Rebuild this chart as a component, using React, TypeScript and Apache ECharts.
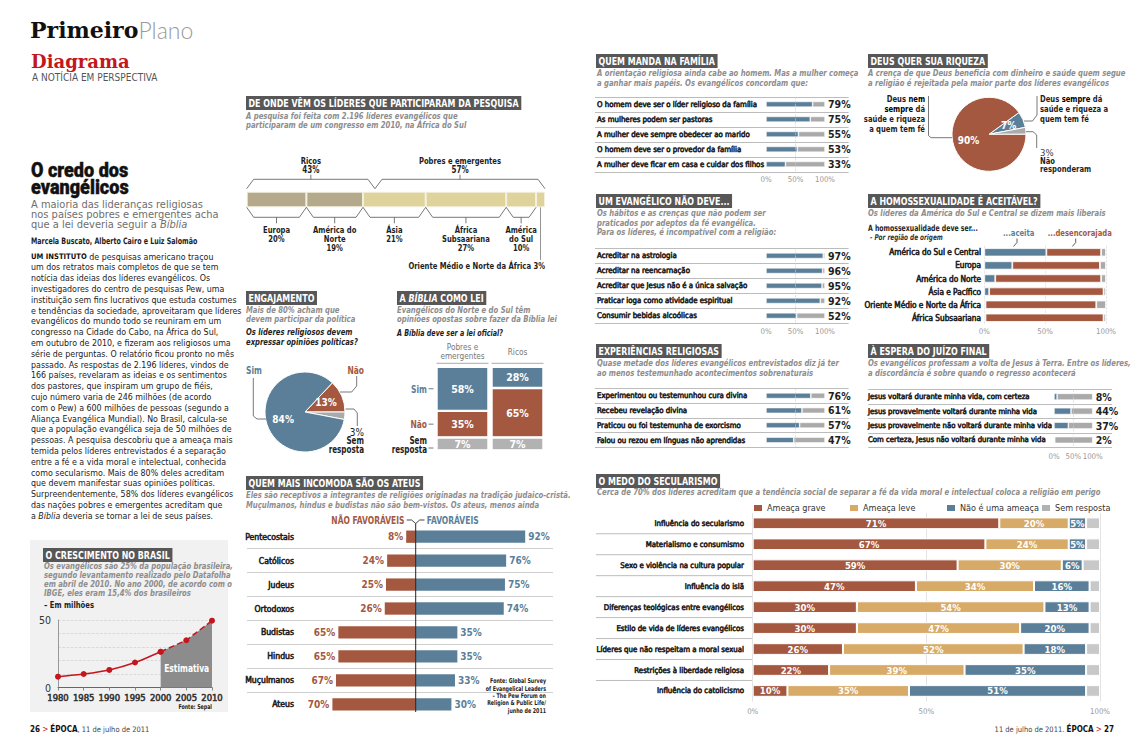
import React, { useEffect, useRef } from "react";
import * as echarts from "echarts";

// ---------------- DATA ----------------
const originRegions = ["Europa", "América do Norte", "Ásia", "África Subsaariana", "América do Sul", "Oriente Médio e Norte da África"];
const originLabels = ["Europa", "América do\nNorte", "Ásia", "África\nSubsaariana", "América\ndo Sul", "Oriente Médio e Norte da África"];
const originShares = [20, 19, 21, 27, 10, 3];
const originRichCount = 2;
const originGroups = ["Ricos", "Pobres e emergentes"];
const originGroupShares = [43, 57];

const growthYears = [1980, 1985, 1990, 1995, 2000, 2005, 2010];
const growthMillions = [8, 10, 13, 18.5, 26.5, 35, 49.5];
const growthEstimateFromIndex = 4;

const engagementNames = ["Não", "Sem resposta", "Sim"];
const engagementValues = [13, 3, 84];

const bibleGroups = ["Pobres e\nemergentes", "Ricos"];
const bibleYes = [58, 28];
const bibleNo = [35, 65];
const bibleNoAnswer = [7, 7];

const religions = ["Pentecostais", "Católicos", "Judeus", "Ortodoxos", "Budistas", "Hindus", "Muçulmanos", "Ateus"];
const unfavorable = [8, 24, 25, 26, 65, 65, 67, 70];
const favorable = [92, 76, 75, 74, 35, 35, 33, 30];

const familyStatements = [
  "O homem deve ser o líder religioso da família",
  "As mulheres podem ser pastoras",
  "A mulher deve sempre obedecer ao marido",
  "O homem deve ser o provedor da família",
  "A mulher deve ficar em casa e cuidar dos filhos",
];
const familyAgree = [79, 75, 55, 53, 33];

const forbiddenPractices = [
  "Acreditar na astrologia",
  "Acreditar na reencarnação",
  "Acreditar que Jesus não é a única salvação",
  "Praticar ioga como atividade espiritual",
  "Consumir bebidas alcoólicas",
];
const forbiddenShares = [97, 96, 95, 92, 52];

const experiences = [
  "Experimentou ou testemunhou cura divina",
  "Recebeu revelação divina",
  "Praticou ou foi testemunha de exorcismo",
  "Falou ou rezou em línguas não aprendidas",
];
const experienceShares = [76, 61, 57, 47];

const wealthNames = ["Deus sempre dá saúde e riqueza a quem tem fé", "Não responderam", "Deus nem sempre dá saúde e riqueza a quem tem fé"];
const wealthValues = [7, 3, 90];

const homoRegions = ["América do Sul e Central", "Europa", "América do Norte", "Ásia e Pacífico", "Oriente Médio e Norte da África", "África Subsaariana"];
const homoAccepted = [51, 23, 9, 4, 1, 1];
const homoDiscouraged = [45, 72, 87, 94, 91, 97];
const homoNoAnswer = [4, 5, 4, 2, 8, 2];

const returnStatements = [
  "Jesus voltará durante minha vida, com certeza",
  "Jesus provavelmente voltará durante minha vida",
  "Jesus provavelmente não voltará durante minha vida",
  "Com certeza, Jesus não voltará durante minha vida",
];
const returnShares = [8, 44, 37, 2];

const threats = [
  "Influência do secularismo",
  "Materialismo e consumismo",
  "Sexo e violência na cultura popular",
  "Influência do islã",
  "Diferenças teológicas entre evangélicos",
  "Estilo de vida de líderes evangélicos",
  "Líderes que não respeitam a moral sexual",
  "Restrições à liberdade religiosa",
  "Influência do catolicismo",
];
const threatSeries = ["Ameaça grave", "Ameaça leve", "Não é uma ameaça", "Sem resposta"];
const threatGrave = [71, 67, 59, 47, 30, 30, 26, 22, 10];
const threatLight = [20, 24, 30, 34, 54, 47, 52, 39, 35];
const threatNone = [5, 5, 6, 16, 13, 20, 18, 35, 51];
const threatNoAnswer = [4, 4, 5, 3, 3, 3, 4, 4, 4];

const percentTicks = [0, 50, 100];
const growthTickLabels = [0, 50];

const bodyLines = [
  "{sc|UM INSTITUTO} de pesquisas americano traçou",
  "um dos retratos mais completos de que se tem",
  "notícia das ideias dos líderes evangélicos. Os",
  "investigadores do centro de pesquisas Pew, uma",
  "instituição sem fins lucrativos que estuda costumes",
  "e tendências da sociedade, aproveitaram que líderes",
  "evangélicos do mundo todo se reuniram em um",
  "congresso na Cidade do Cabo, na África do Sul,",
  "em outubro de 2010, e fizeram aos religiosos uma",
  "série de perguntas. O relatório ficou pronto no mês",
  "passado. As respostas de 2.196 líderes, vindos de",
  "166 países, revelaram as ideias e os sentimentos",
  "dos pastores, que inspiram um grupo de fiéis,",
  "cujo número varia de 246 milhões (de acordo",
  "com o Pew) a 600 milhões de pessoas (segundo a",
  "Aliança Evangélica Mundial). No Brasil, calcula-se",
  "que a população evangélica seja de 50 milhões de",
  "pessoas. A pesquisa descobriu que a ameaça mais",
  "temida pelos líderes entrevistados é a separação",
  "entre a fé e a vida moral e intelectual, conhecida",
  "como secularismo. Mais de 80% deles acreditam",
  "que devem manifestar suas opiniões políticas.",
  "Surpreendentemente, 58% dos líderes evangélicos",
  "das nações pobres e emergentes acreditam que",
  "a {i|Bíblia} deveria se tornar a lei de seus países.",
];

// ---------------- STYLE ----------------
const FONT = "'Liberation Sans Narrow', 'DejaVu Sans Condensed', 'Roboto Condensed', Roboto, sans-serif";
const SERIF = "'DejaVu Serif', 'Liberation Serif', serif";
const BLUE = "#5b7f99";
const RED = "#a4583f";
const GRAY = "#aaaaaa";
const LGRAY = "#c8c8c8";
const TAN = "#d8aa67";
const KD = "#b4a98b";
const KL = "#ded39b";
const DARK = "#1e1e1e";
const HEAD = "#575757";
const SUB = "#8d8d8d";
const RULE = "#bcbcbc";
const BRAND = "#c4161c";

// regular narrow face made a little heavier with a thin same-colour outline
const medium = (color: string, size: number) => ({
  color,
  fontSize: size,
  fontWeight: "normal",
  fontFamily: FONT,
  textBorderColor: color,
  textBorderWidth: 0.55,
});

function buildOption() {
  const grid: any[] = [];
  const xAxis: any[] = [];
  const yAxis: any[] = [];
  const series: any[] = [];
  const g: any[] = [];

  const text = (x: number, y: number, t: string, o: any = {}) => {
    const isBold = o.weight === "bold" || o.weight === 900;
    const sx = o.sx !== undefined ? o.sx : isBold ? 0.8 : 1;
    g.push({
      type: "text",
      x,
      y,
      scaleX: sx,
      silent: true,
      z: 20,
      style: {
        text: t,
        fill: o.fill || DARK,
        fontSize: o.size || 9,
        fontWeight: o.weight || "normal",
        fontStyle: o.style || "normal",
        fontFamily: o.family || FONT,
        align: o.align || "left",
        verticalAlign: o.va || "middle",
        lineHeight: o.lh,
        rich: o.rich,
        backgroundColor: o.bg,
        padding: o.pad,
        stroke: o.stroke,
        lineWidth: o.stroke ? o.strokeW || 0.6 : undefined,
      },
    });
  };
  const line = (x1: number, y1: number, x2: number, y2: number, stroke = RULE, lw = 1, dash?: number[]) =>
    g.push({ type: "line", silent: true, z: 15, shape: { x1, y1, x2, y2 }, style: { stroke, lineWidth: lw, lineDash: dash } });
  const poly = (points: number[][], stroke = "#555", lw = 1) =>
    g.push({ type: "polyline", silent: true, z: 15, shape: { points }, style: { stroke, lineWidth: lw, fill: null } });
  const header = (x: number, y: number, t: string, rich?: any) =>
    text(x, y, t, { fill: "#fff", size: 10.5, weight: "bold", bg: HEAD, pad: [2, 3, 1, 3], va: "top", rich, sx: 0.84 });
  const sub = (x: number, y: number, lines: string[], step = 9.3) =>
    lines.forEach((l, i) => text(x, y + i * step, l, { fill: SUB, size: 8.8, weight: "bold", style: "italic", sx: 0.87 }));

  const addGrid = (rect: any, xa: any, ya: any) => {
    const i = grid.length;
    grid.push({ ...rect, containLabel: false, outerBoundsMode: "none" });
    xAxis.push({ gridIndex: i, ...xa });
    yAxis.push({ gridIndex: i, ...ya });
    return i;
  };

  // ---------- page furniture ----------
  text(30, 30, "{a|Primeiro}{b|Plano}", {
    rich: {
      a: { fontFamily: SERIF, fontWeight: "bold", fontSize: 22, fill: "#111" },
      b: { fontFamily: "Lato, 'Open Sans', sans-serif", fontWeight: 300, fontSize: 23, fill: "#9a9a9a" },
    },
  });
  text(31, 61, "Diagrama", { family: SERIF, weight: "bold", size: 19, fill: BRAND, sx: 0.95 });
  text(32, 77, "A NOTÍCIA EM PERSPECTIVA", { size: 10, fill: "#555" });

  text(31, 170.5, "O credo dos", { family: "Roboto, sans-serif", weight: 900, size: 21, fill: "#111", sx: 0.86, stroke: "#111", strokeW: 0.45 });
  text(31, 187, "evangélicos", { family: "Roboto, sans-serif", weight: 900, size: 21, fill: "#111", sx: 0.86, stroke: "#111", strokeW: 0.45 });
  ["A maioria das lideranças religiosas", "nos países pobres e emergentes acha", "que a lei deveria seguir a {i|Bíblia}"].forEach((l, i) =>
    text(31, 203.7 + i * 10.3, l, {
      size: 10,
      fill: "#6e6e6e",
      sx: 1.1,
      rich: { i: { fontStyle: "italic", fontSize: 10, fill: "#6e6e6e", fontFamily: FONT } },
    })
  );
  text(31, 241, "Marcela Buscato, Alberto Cairo e Luiz Salomão", { size: 8.8, weight: "bold" });
  bodyLines.forEach((l, i) =>
    text(31, 256.7 + i * 10.79, l, {
      size: 8.8,
      fill: "#222",
      rich: {
        sc: { fontWeight: "bold", fontSize: 7.6, fill: "#111", fontFamily: FONT },
        i: { fontStyle: "italic", fontSize: 8.8, fill: "#222", fontFamily: FONT },
      },
    })
  );

  // footer
  text(30, 729, "{b|26} {r|>} {b|ÉPOCA}, 11 de julho de 2011", {
    size: 7.5,
    fill: "#444",
    rich: { b: { fontWeight: "bold", fontSize: 8, fill: "#111", fontFamily: FONT }, r: { fontSize: 8, fill: BRAND, fontFamily: FONT } },
  });
  text(1114, 729, "11 de julho de 2011. {b|ÉPOCA} {r|>} {b|27}", {
    size: 7.5,
    fill: "#444",
    align: "right",
    rich: { b: { fontWeight: "bold", fontSize: 8, fill: "#111", fontFamily: FONT }, r: { fontSize: 8, fill: BRAND, fontFamily: FONT } },
  });

  // ---------- DE ONDE VÊM ----------
  header(246, 96, "DE ONDE VÊM OS LÍDERES QUE PARTICIPARAM DA PESQUISA");
  sub(246, 115.7, ["A pesquisa foi feita com 2.196 líderes evangélicos que", "participaram de um congresso em 2010, na África do Sul"], 8.8);
  const oX0 = 246.7, oW = 298.3, oTop = 191.7, oH = 15.6;
  const oi = addGrid(
    { left: oX0, top: oTop, width: oW, height: oH },
    { type: "value", min: 0, max: 100, show: false },
    { type: "category", data: ["origem"], show: false }
  );
  originShares.forEach((v, k) =>
    series.push({
      type: "bar",
      name: originRegions[k],
      xAxisIndex: oi,
      yAxisIndex: oi,
      stack: "orig",
      data: [v],
      barWidth: oH,
      itemStyle: { color: k < originRichCount ? KD : KL, borderColor: "#f4f0df", borderWidth: 1 },
    })
  );
  const opx = (v: number) => oX0 + (v * oW) / 100;
  const cum = [0];
  originShares.forEach((v) => cum.push(cum[cum.length - 1] + v));
  const oBot = oTop + oH;
  for (let k = 0; k < originShares.length - 1; k++) {
    const x1 = opx(cum[k]), x2 = opx(cum[k + 1]), xc = (x1 + x2) / 2;
    poly([[x1, oBot], [x1 + 7, oBot + 10], [x2 - 7, oBot + 10], [x2, oBot]], "#555", 0.8);
    line(xc, oBot + 10, xc, oBot + 16, "#555", 0.8);
    text(xc, oBot + 18.5, originLabels[k] + "\n" + originShares[k] + "%", { align: "center", va: "top", size: 9.5, weight: "bold", lh: 8.6 });
  }
  {
    const k = originShares.length - 1;
    const xc = opx(cum[k] + originShares[k] / 2);
    line(xc, oBot, xc, 260, "#777", 0.8);
    text(opx(100), 265.5, originLabels[k] + " " + originShares[k] + "%", { align: "right", size: 9.5, weight: "bold" });
  }
  let gacc = 0;
  originGroupShares.forEach((v, k) => {
    const x1 = opx(gacc), x2 = opx(gacc + v), xc = (x1 + x2) / 2;
    gacc += v;
    poly([[x1, oTop - 3], [x1 + 7, oTop - 12.4], [x2 - 7, oTop - 12.4], [x2, oTop - 3]], "#555", 0.8);
    line(xc, oTop - 12.4, xc, oTop - 17, "#555", 0.8);
    text(xc, oTop - 31.5, originGroups[k], { align: "center", size: 9.5, weight: "bold" });
    text(xc, oTop - 22.5, v + "%", { align: "center", size: 10, weight: "bold" });
  });

  // ---------- ENGAJAMENTO ----------
  header(246, 291, "ENGAJAMENTO");
  sub(246, 309.5, ["Mais de 80% acham que", "devem participar da política"], 9);
  text(246, 331.5, "Os líderes religiosos devem", { size: 9.5, weight: "bold", style: "italic" });
  text(246, 342, "expressar opiniões políticas?", { size: 9.5, weight: "bold", style: "italic" });
  const engColors = [RED, GRAY, BLUE];
  series.push({
    type: "pie",
    center: [305, 412],
    radius: 40,
    startAngle: engagementValues[0] * 3.6,
    clockwise: true,
    data: engagementValues.map((v, i) => ({ value: v, name: engagementNames[i], itemStyle: { color: engColors[i] } })),
    itemStyle: { borderColor: "#fff", borderWidth: 1 },
    label: {
      show: true,
      position: "inner",
      formatter: (p: any) => (p.value >= 10 ? p.value + "%" : ""),
      color: "#fff",
      fontWeight: "bold",
      fontSize: 10,
      fontFamily: FONT,
    },
    labelLine: { show: false },
    emphasis: { disabled: true },
  });
  text(246, 370, "Sim", { fill: BLUE, weight: "bold", size: 10.5 });
  poly([[253.3, 378], [253.3, 416], [257, 419], [266, 419]], "#555", 0.8);
  text(364, 370, "Não", { fill: RED, weight: "bold", size: 10.5, align: "right" });
  poly([[356.7, 376], [356.7, 386], [351.7, 392], [340, 392]], "#555", 0.8);
  poly([[345.5, 409], [354, 409], [357.3, 413], [357.3, 426]], "#555", 0.8);
  text(364, 432, engagementValues[1] + "%", { size: 10, align: "right" });
  text(364, 441, "Sem", { size: 10, weight: "bold", align: "right" });
  text(364, 450, "resposta", { size: 10, weight: "bold", align: "right" });

  // ---------- A BÍBLIA COMO LEI ----------
  header(397, 291, "{n|A }{i|BÍBLIA}{n| COMO LEI}", {
    n: { fill: "#fff", fontSize: 10.5, fontWeight: "bold", fontFamily: FONT },
    i: { fill: "#fff", fontSize: 10.5, fontWeight: "bold", fontStyle: "italic", fontFamily: FONT },
  });
  sub(397, 309.5, ["Evangélicos do Norte e do Sul têm", "opiniões opostas sobre fazer da Bíblia lei"], 9);
  text(397, 333, "A Bíblia deve ser a lei oficial?", { size: 9.5, weight: "bold", style: "italic", sx: 0.75 });
  const bLeft = 435, bW = 110, bTop = 366.7, bScale = 0.761;
  const bi = addGrid(
    { left: bLeft, top: bTop, width: bW, height: 100 * bScale },
    { type: "category", data: bibleGroups, show: false },
    { type: "value", min: 0, max: 100, inverse: true, show: false }
  );
  const bibleSer = [
    { name: "Sim", data: bibleYes, color: BLUE },
    { name: "Não", data: bibleNo, color: RED },
    { name: "Sem resposta", data: bibleNoAnswer, color: "#b2b2b2" },
  ];
  bibleSer.forEach((s, k) =>
    series.push({
      type: "bar",
      name: s.name,
      xAxisIndex: bi,
      yAxisIndex: bi,
      stack: "bible",
      data: s.data,
      barWidth: 52,
      barMinHeight: k === 2 ? 13 : 0,
      clip: false,
      itemStyle: { color: s.color, borderColor: "#fff", borderWidth: 1.2 },
      label: { show: true, position: "inside", formatter: "{c}%", color: "#fff", fontWeight: "bold", fontSize: 10.5, fontFamily: FONT },
    })
  );
  const colW = bW / bibleGroups.length;
  bibleGroups.forEach((name, i) => {
    const cx = bLeft + (i + 0.5) * colW;
    text(cx, 351.5, name, { align: "center", size: 8.2, fill: "#777", lh: 8.7 });
    line(bLeft + i * colW + 1.5, 363.3, bLeft + (i + 1) * colW - 1.5, 363.3, "#aaa", 1);
  });
  const ySim = bTop + (bibleYes[0] / 2) * bScale;
  const yNao = bTop + (bibleYes[0] + bibleNo[0] / 2) * bScale;
  text(427, ySim, "Sim", { align: "right", size: 10.5, weight: "bold", fill: BLUE });
  line(428.5, ySim, 433.5, ySim, "#555", 0.8);
  text(427, yNao, "Não", { align: "right", size: 10.5, weight: "bold", fill: RED });
  line(428.5, yNao, 433.5, yNao, "#555", 0.8);
  text(427, 441, "Sem", { align: "right", size: 10, weight: "bold" });
  text(427, 450, "resposta", { align: "right", size: 10, weight: "bold" });
  line(428.5, 448, 433.5, 448, "#555", 0.8);

  // ---------- QUEM MAIS INCOMODA ----------
  header(246, 476, "QUEM MAIS INCOMODA SÃO OS ATEUS");
  sub(246, 495, ["Eles são receptivos a integrantes de religiões originadas na tradição judaico-cristã.", "Muçulmanos, hindus e budistas não são bem-vistos. Os ateus, menos ainda"], 9.5);
  const aZero = 415.7, aScale = 1.19, aLeft = 247, aRight = 553, aRow0 = 536.7, aStep = 23.94;
  const ai = addGrid(
    { left: aLeft, top: aRow0 - aStep / 2, width: aRight - aLeft, height: aStep * religions.length },
    { type: "value", min: -(aZero - aLeft) / aScale, max: (aRight - aZero) / aScale, show: false },
    {
      type: "category",
      inverse: true,
      data: religions,
      axisLine: { show: false },
      axisTick: { show: false },
      axisLabel: { margin: aLeft - 294, ...medium(DARK, 8.6) },
      splitLine: { show: true, showMinLine: false, showMaxLine: false, lineStyle: { color: "#cfcfcf", width: 1 } },
    }
  );
  series.push({
    type: "bar",
    name: "Não favoráveis",
    xAxisIndex: ai,
    yAxisIndex: ai,
    data: unfavorable.map((v) => -v),
    barWidth: 12.3,
    barGap: "-100%",
    itemStyle: { color: RED },
    label: { show: true, position: "left", distance: 3, formatter: (p: any) => Math.abs(p.value) + "%", color: RED, fontSize: 10, fontWeight: "bold", fontFamily: FONT },
  });
  series.push({
    type: "bar",
    name: "Favoráveis",
    xAxisIndex: ai,
    yAxisIndex: ai,
    data: favorable,
    barWidth: 12.3,
    barGap: "-100%",
    itemStyle: { color: BLUE },
    label: { show: true, position: "right", distance: 3, formatter: "{c}%", color: BLUE, fontSize: 10, fontWeight: "bold", fontFamily: FONT },
  });
  text(404.5, 520, "NÃO FAVORÁVEIS", { align: "right", size: 10.5, weight: "bold", fill: RED });
  text(426.7, 520, "FAVORÁVEIS", { size: 10.5, weight: "bold", fill: BLUE });
  poly([[406.7, 520], [411.7, 520], [aZero, 523.5], [419.7, 520], [424.5, 520]], "#333", 0.9);
  line(aZero, 523.5, aZero, 712, "#222", 1);
  ["Fonte: Global Survey", "of Evangelical Leaders", "– The Pew Forum on", "Religion & Public Life/", "junho de 2011"].forEach((l, i) =>
    text(546, 680.7 + i * 7.3, l, { align: "right", size: 6.6, weight: "bold", fill: "#222" })
  );

  // ---------- O CRESCIMENTO NO BRASIL ----------
  g.push({ type: "rect", silent: true, z: 0, shape: { x: 30, y: 540, width: 198, height: 172 }, style: { fill: "#f1f1f1" } });
  header(43, 548, "O CRESCIMENTO NO BRASIL");
  sub(44, 565.5, [
    "Os evangélicos são 25% da população brasileira,",
    "segundo levantamento realizado pelo Datafolha",
    "em abril de 2010. No ano 2000, de acordo com o",
    "IBGE, eles eram 15,4% dos brasileiros",
  ], 9.2);
  text(44, 605, "– Em milhões", { size: 9.5, weight: "bold" });
  const ci = addGrid(
    { left: 58, top: 620, width: 154, height: 67.5 },
    {
      type: "value",
      min: growthYears[0],
      max: growthYears[growthYears.length - 1],
      interval: 5,
      axisLine: { show: true, lineStyle: { color: "#666", width: 1 } },
      axisTick: { show: true, length: 3, lineStyle: { color: "#888" } },
      axisLabel: { formatter: (v: number) => String(v), showMinLabel: true, showMaxLabel: true, margin: 5, ...medium("#333", 9.4) },
      splitLine: { show: false },
    },
    {
      type: "value",
      min: 0,
      max: 50,
      interval: 10,
      axisLine: { show: true, lineStyle: { color: "#999", width: 1 } },
      axisTick: { show: false },
      axisLabel: { formatter: (v: number) => (growthTickLabels.includes(v) ? String(v) : ""), color: "#333", fontSize: 10.5, margin: 7, fontFamily: FONT },
      splitLine: { show: true, lineStyle: { color: "#cfcfcf", type: "dashed", width: 0.7 } },
    }
  );
  const gPts = growthYears.map((y, i) => [y, growthMillions[i]]);
  series.push({
    type: "line",
    name: "Estimativa",
    xAxisIndex: ci,
    yAxisIndex: ci,
    data: gPts.slice(growthEstimateFromIndex),
    lineStyle: { color: BRAND, width: 1.5, type: "dashed" },
    areaStyle: { color: "#8c8c8c", opacity: 1 },
    symbol: "circle",
    symbolSize: 6,
    itemStyle: { color: BRAND },
    z: 3,
  });
  series.push({
    type: "line",
    name: "Evangélicos",
    xAxisIndex: ci,
    yAxisIndex: ci,
    data: gPts.slice(0, growthEstimateFromIndex + 1),
    smooth: 0.2,
    lineStyle: { color: BRAND, width: 1.5 },
    symbol: "circle",
    symbolSize: 6,
    itemStyle: { color: BRAND },
    z: 4,
  });
  text(186.7, 667.7, "Estimativa", { align: "center", size: 10.5, weight: "bold", fill: "#fff" });
  text(212, 706, "Fonte: Sepal", { align: "right", size: 6.6, weight: "bold" });

  // ---------- two-tone tables ----------
  const table = (items: string[], values: number[], c: any) => {
    const s = (c.x100 - c.x0) / 100;
    const left = c.x0 + c.min * s, right = c.x0 + c.max * s;
    const top = c.row0 - c.step / 2, height = c.step * items.length;
    const i = addGrid(
      { left, top, width: right - left, height },
      {
        type: "value",
        min: c.min,
        max: c.max,
        interval: 10,
        axisLine: { show: false },
        axisTick: { show: false },
        splitLine: { show: false },
        axisLabel: { show: c.axis, formatter: (v: number) => (percentTicks.includes(v) ? v + "%" : ""), color: "#9a9a9a", fontSize: 7.8, margin: c.axisMargin || 4, fontFamily: FONT },
      },
      {
        type: "category",
        inverse: true,
        data: items,
        axisLine: { show: false },
        axisTick: { show: false },
        axisLabel: { align: "left", margin: left - c.labelX, ...medium(DARK, c.fs || 7.8) },
        splitLine: { show: true, showMinLine: true, showMaxLine: true, lineStyle: { color: RULE, width: 1 } },
      }
    );
    series.push({
      type: "bar",
      xAxisIndex: i,
      yAxisIndex: i,
      stack: "t" + i,
      data: values,
      barWidth: c.bh,
      itemStyle: { color: BLUE, borderColor: "#fff", borderWidth: 0.6 },
      markLine: {
        silent: true,
        symbol: ["none", "none"],
        label: { show: false },
        lineStyle: { color: "#cfcfcf", type: "dashed", width: 0.6 },
        data: [{ xAxis: 50 }],
      },
    });
    series.push({
      type: "bar",
      xAxisIndex: i,
      yAxisIndex: i,
      stack: "t" + i,
      data: values.map((v) => 100 - v),
      barWidth: c.bh,
      itemStyle: { color: GRAY, borderColor: "#fff", borderWidth: 0.6 },
      label: { show: true, position: "right", distance: c.dist || 3, formatter: (p: any) => values[p.dataIndex] + "%", color: DARK, fontSize: 10.5, fontWeight: "bold", fontFamily: FONT },
    });
  };

  header(596, 54, "QUEM MANDA NA FAMÍLIA");
  sub(597, 73, ["A orientação religiosa ainda cabe ao homem. Mas a mulher começa", "a ganhar mais papéis. Os evangélicos concordam que:"]);
  table(familyStatements, familyAgree, { x0: 766, x100: 825, min: -290, max: 140, row0: 104.3, step: 15, bh: 5.7, labelX: 597, axis: true });

  header(596, 194, "UM EVANGÉLICO NÃO DEVE...");
  sub(597, 213, ["Os hábitos e as crenças que não podem ser", "praticados por adeptos da fé evangélica.", "Para os líderes, é incompatível com a religião:"]);
  table(forbiddenPractices, forbiddenShares, { x0: 766, x100: 825, min: -290, max: 140, row0: 255.7, step: 15, bh: 5.7, labelX: 597, axis: true });

  header(596, 344, "EXPERIÊNCIAS RELIGIOSAS");
  sub(597, 363, ["Quase metade dos líderes evangélicos entrevistados diz já ter", "ao menos testemunhado acontecimentos sobrenaturais"]);
  table(experiences, experienceShares, { x0: 766, x100: 825, min: -290, max: 140, row0: 395.7, step: 14.77, bh: 5.7, labelX: 597, axis: false });

  header(868, 344, "À ESPERA DO JUÍZO FINAL");
  sub(868, 363, ["Os evangélicos professam a volta de Jesus à Terra. Entre os líderes,", "a discordância é sobre quando o regresso acontecerá"]);
  table(returnStatements, returnShares, { x0: 1054, x100: 1092.7, min: -480, max: 150, row0: 396.7, step: 14.43, bh: 6.7, labelX: 868, axis: true, axisMargin: 5, fs: 7.7 });

  // ---------- DEUS QUER SUA RIQUEZA ----------
  header(868, 54, "DEUS QUER SUA RIQUEZA");
  sub(868, 73, ["A crença de que Deus beneficia com dinheiro e saúde quem segue", "a religião é rejeitada pela maior parte dos líderes evangélicos"]);
  const wColors = [BLUE, GRAY, RED];
  series.push({
    type: "pie",
    center: [989, 134.3],
    radius: 37,
    startAngle: (wealthValues[0] + wealthValues[1]) * 3.6,
    clockwise: true,
    data: wealthValues.map((v, i) => ({ value: v, name: wealthNames[i], itemStyle: { color: wColors[i] } })),
    itemStyle: { borderColor: "#fff", borderWidth: 1 },
    label: {
      show: true,
      position: "inner",
      formatter: (p: any) => (p.value >= 5 ? p.value + "%" : ""),
      color: "#fff",
      fontWeight: "bold",
      fontSize: 10,
      fontFamily: FONT,
    },
    labelLine: { show: false },
    emphasis: { disabled: true },
  });
  ["Deus {x|nem}", "{x|sempre} dá", "saúde e riqueza", "a quem tem fé"].forEach((l, i) =>
    text(925, 98.3 + i * 10, l, { align: "right", size: 9.5, weight: "bold", rich: { x: { fontWeight: 900, fontSize: 9.5, fill: "#000", fontFamily: FONT } } })
  );
  poly([[928.5, 96], [928.5, 135.5], [931, 137.7], [952, 137.7]], "#555", 0.8);
  ["Deus {x|sempre} dá", "saúde e riqueza a", "quem tem fé"].forEach((l, i) =>
    text(1040, 98.3 + i * 10, l, { size: 9.5, weight: "bold", rich: { x: { fontWeight: 900, fontSize: 9.5, fill: "#000", fontFamily: FONT } } })
  );
  poly([[1024, 121], [1032.5, 121], [1037, 115], [1037, 96]], "#555", 0.8);
  poly([[1026, 131.7], [1033, 131.7], [1036.7, 135], [1036.7, 148]], "#555", 0.8);
  text(1040, 152, wealthValues[1] + "%", { size: 9.5, fill: "#444" });
  text(1040, 160.3, "Não", { size: 9.5, weight: "bold" });
  text(1040, 168.7, "responderam", { size: 9.5, weight: "bold" });

  // ---------- HOMOSSEXUALIDADE ----------
  header(868, 194, "A HOMOSSEXUALIDADE É ACEITÁVEL?");
  sub(868, 213, ["Os líderes da América do Sul e Central se dizem mais liberais"]);
  text(868, 228.5, "A homossexualidade deve ser...", { size: 8.6, weight: "bold" });
  text(870, 237, "- Por região de origem", { size: 8, style: "italic", weight: "bold", fill: "#333" });
  const hi = addGrid(
    { left: 984.3, top: 245.8, width: 121.7, height: 78.5 },
    {
      type: "value",
      min: 0,
      max: 100,
      interval: 50,
      axisLine: { show: false },
      axisTick: { show: false },
      splitLine: { show: true, lineStyle: { color: "#d5d5d5", type: "dashed", width: 0.6 } },
      axisLabel: { formatter: "{value}%", color: "#9a9a9a", fontSize: 7.8, margin: 3, fontFamily: FONT },
    },
    {
      type: "category",
      inverse: true,
      data: homoRegions,
      axisLine: { show: false },
      axisTick: { show: false },
      axisLabel: { margin: 3.3, ...medium(DARK, 8.2) },
    }
  );
  [
    { name: "...aceita", data: homoAccepted, color: BLUE },
    { name: "...desencorajada", data: homoDiscouraged, color: RED },
    { name: "Sem resposta", data: homoNoAnswer, color: GRAY },
  ].forEach((s) =>
    series.push({
      type: "bar",
      name: s.name,
      xAxisIndex: hi,
      yAxisIndex: hi,
      stack: "homo",
      data: s.data,
      barWidth: 8.3,
      itemStyle: { color: s.color, borderColor: "#fff", borderWidth: 0.8 },
    })
  );
  text(1003, 233, "...aceita", { size: 9.5, weight: "bold", fill: BLUE });
  poly([[1017, 238.5], [1017, 242.5], [1013.5, 246.5]], "#333", 0.8);
  text(1047.7, 233, "...desencorajada", { size: 9.5, weight: "bold", fill: RED });
  poly([[1075.7, 238.5], [1075.7, 242.5], [1072.3, 246.5]], "#333", 0.8);

  // ---------- O MEDO DO SECULARISMO ----------
  header(596, 474, "O MEDO DO SECULARISMO");
  sub(597, 491.5, ["Cerca de 70% dos líderes acreditam que a tendência social de separar a fé da vida moral e intelectual coloca a religião em perigo"]);
  const sTop = 512.8, sStep = 20.96;
  const si = addGrid(
    { left: 752.7, top: sTop, width: 347.3, height: sStep * threats.length },
    {
      type: "value",
      min: 0,
      max: 100,
      interval: 50,
      axisLine: { show: false },
      axisTick: { show: false },
      splitLine: { show: true, lineStyle: { color: "#dcdcdc", width: 0.8 } },
      axisLabel: { formatter: "{value}%", color: "#9a9a9a", fontSize: 7.8, margin: 6, fontFamily: FONT },
    },
    {
      type: "category",
      inverse: true,
      data: threats,
      axisLine: { show: false },
      axisTick: { show: false },
      axisLabel: { margin: 8.7, ...medium(DARK, 7.8) },
    }
  );
  const thrData = [threatGrave, threatLight, threatNone, threatNoAnswer];
  const thrColors = [RED, TAN, BLUE, LGRAY];
  thrData.forEach((d, k) =>
    series.push({
      type: "bar",
      name: threatSeries[k],
      xAxisIndex: si,
      yAxisIndex: si,
      stack: "thr",
      data: d,
      barWidth: 11.7,
      itemStyle: { color: thrColors[k], borderColor: "#fff", borderWidth: 1 },
      label: { show: k < 3, position: "inside", formatter: "{c}%", color: "#fff", fontSize: 9.5, fontWeight: "bold", fontFamily: FONT },
    })
  );
  for (let r = 1; r < threats.length; r++) line(596, sTop + r * sStep, 752, sTop + r * sStep, RULE, 1);
  const legendLeft = [752, 848, 945, 1040];
  const legend = threatSeries.map((n, k) => ({
    data: [n],
    left: legendLeft[k],
    top: 503,
    icon: "rect",
    itemWidth: 10,
    itemHeight: 8,
    itemGap: 0,
    padding: 0,
    selectedMode: false,
    textStyle: { fontSize: 9, color: "#333", fontFamily: FONT, padding: [0, 0, 0, -1] },
  }));

  return {
    animation: false,
    backgroundColor: "#ffffff",
    textStyle: { fontFamily: FONT },
    grid,
    xAxis,
    yAxis,
    series,
    legend,
    graphic: { elements: g },
  };
}

export default function App() {
  const ref = useRef<HTMLDivElement>(null);
  useEffect(() => {
    if (!ref.current) return;
    const chart = echarts.init(ref.current, null, { renderer: "svg", width: 1145, height: 754 });
    chart.setOption(buildOption() as any);
    return () => chart.dispose();
  }, []);
  return (
    <div
      ref={ref}
      style={{ position: "absolute", left: 0, top: 0, width: 1145, height: 754, background: "#fff" }}
    />
  );
}
